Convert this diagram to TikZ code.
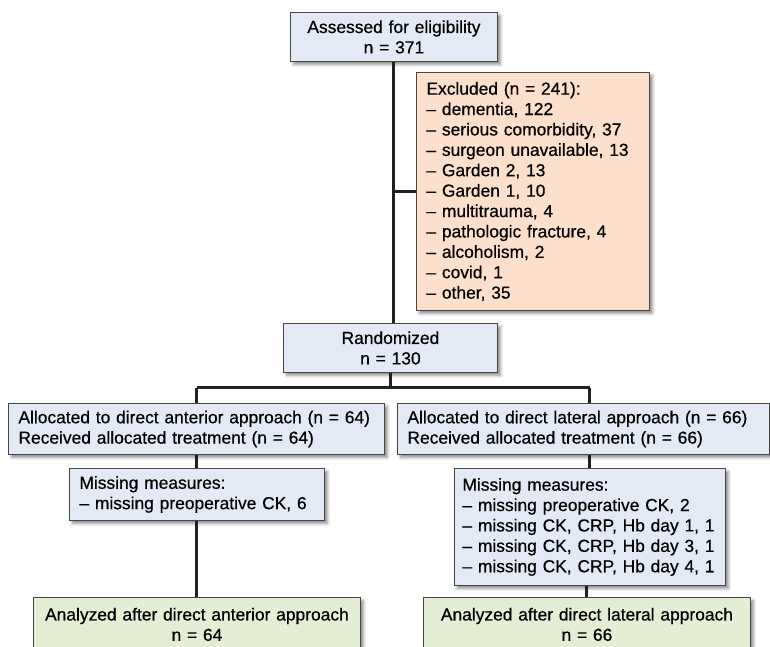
\documentclass[tikz,border=0pt]{standalone}
\usepackage{fontspec}
\setmainfont{Liberation Sans}
\newfontfamily\boxfont{Liberation Sans}[Ligatures=TeX, FakeBold=0.5]
\newcommand\boxtext{\boxfont\fontsize{17.4}{20.4}\selectfont\hyphenpenalty=10000\relax}
\usepackage{xcolor}
\usepackage{tikz}
\usetikzlibrary{positioning, calc, shadows.blur}

\definecolor{boxblue}{RGB}{228,234,245}
\definecolor{boxpeach}{RGB}{253,224,204}
\definecolor{boxgreen}{RGB}{227,238,212}
\definecolor{edgegray}{RGB}{70,70,70}
\definecolor{linedark}{RGB}{35,31,32}

\begin{document}
\begin{tikzpicture}[
  x=1pt, y=-1pt,
  box/.style={rectangle, draw=edgegray, line width=0.9pt, anchor=north west,
    inner xsep=10pt, inner ysep=0pt, font=\boxtext,
    blur shadow={shadow xshift=3pt, shadow yshift=-3pt, shadow blur radius=3pt, shadow opacity=45}},
  conn/.style={draw=linedark, line width=3pt}
]
  \useasboundingbox (0,0) rectangle (770,647);
  \clip (0,0) rectangle (770,647);

  \node[box, fill=boxblue, text width=187pt, minimum height=49pt, align=center] (assess) at (290,12) {Assessed for eligibility\\n = 371};
  \node[box, fill=boxpeach, text width=213pt, minimum height=238pt, align=left] (excl) at (416,72) {Excluded (n = 241):\\-- dementia, 122\\-- serious comorbidity, 37\\-- surgeon unavailable, 13\\-- Garden 2, 13\\-- Garden 1, 10\\-- multitrauma, 4\\-- pathologic fracture, 4\\-- alcoholism, 2\\-- covid, 1\\-- other, 35};
  \node[box, fill=boxblue, text width=194pt, minimum height=49pt, align=center] (rand) at (283,323) {Randomized\\n = 130};

  \node[box, fill=boxblue, text width=356pt, minimum height=51pt, align=left] (allocA) at (8,403) {Allocated to direct anterior approach (n = 64)\\Received allocated treatment (n = 64)};
  \node[box, fill=boxblue, text width=352pt, minimum height=51pt, align=left] (allocL) at (397,403) {Allocated to direct lateral approach (n = 66)\\Received allocated treatment (n = 66)};

  \node[box, fill=boxblue, text width=235pt, minimum height=52pt, align=left] (missA) at (69,468) {Missing measures:\\-- missing preoperative CK, 6};
  \node[box, fill=boxblue, text width=255pt, minimum height=117pt, align=left, inner xsep=8pt] (missL) at (454,468) {Missing measures:\\-- missing preoperative CK, 2\\-- missing CK, CRP, Hb day 1, 1\\-- missing CK, CRP, Hb day 3, 1\\-- missing CK, CRP, Hb day 4, 1};

  \node[box, fill=boxgreen, text width=315pt, minimum height=54pt, align=center, inner xsep=6pt] (anaA) at (33,597) {Analyzed after direct anterior approach\\n = 64};
  \node[box, fill=boxgreen, text width=315pt, minimum height=54pt, align=center, inner xsep=6pt] (anaL) at (423,597) {Analyzed after direct lateral approach\\n = 66};

  % trunk and exclusion branch
  \draw[conn] (assess.south) -- (assess.south |- rand.north);
  \draw[conn] (assess.south |- excl.west) -- (excl.west);

  % split into the two arms
  \coordinate (split) at ($(rand.south)+(0,15)$);
  \draw[conn] (rand.south) -- (split);
  \draw[conn] (missA.north |- split) -- (missL.north |- split);
  \draw[conn] (missA.north |- split) -- (missA.north |- allocA.north);
  \draw[conn] (missL.north |- split) -- (missL.north |- allocL.north);

  % down each arm
  \draw[conn] (missA.north |- allocA.south) -- (missA.north);
  \draw[conn] (missL.north |- allocL.south) -- (missL.north);
  \draw[conn] (missA.south) -- (missA.south |- anaA.north);
  \draw[conn] (anaL.north |- missL.south) -- (anaL.north);
\end{tikzpicture}
\end{document}
